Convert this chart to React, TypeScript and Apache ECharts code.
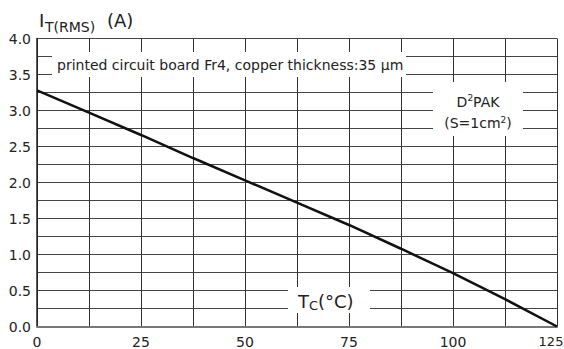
import React, { useEffect, useRef } from "react";
import * as echarts from "echarts";

const tempC = [0, 12.5, 25, 37.5, 50, 62.5, 75, 87.5, 100, 112.5, 125];
const currentA = [3.28, 2.97, 2.66, 2.34, 2.03, 1.72, 1.41, 1.08, 0.74, 0.38, 0];
const xTickLabels = [0, 25, 50, 75, 100, 125];
const yTickLabels = [0, 0.5, 1, 1.5, 2, 2.5, 3, 3.5, 4];

const FONT = "'DejaVu Sans', 'Liberation Sans', Arial, sans-serif";
const INK = "#222";

const txt = (x: number, y: number, text: string, size: number, align = "left") => ({
  type: "text",
  x,
  y,
  style: { text, font: `${size}px ${FONT}`, fill: INK, verticalAlign: "middle", align },
  z: 11,
});

export default function App() {
  const ref = useRef<HTMLDivElement>(null);
  useEffect(() => {
    if (!ref.current) return;
    const chart = echarts.init(ref.current, undefined, { renderer: "svg" });
    const supRich = {
      n: { fontSize: 14, fontFamily: FONT, fill: INK, lineHeight: 16 },
      s: { fontSize: 9, fontFamily: FONT, fill: INK, padding: [0, 0, 7, 0] },
    };
    chart.setOption({
      animation: false,
      grid: { left: 37, right: 7, top: 38.5, bottom: 22.5, containLabel: false, outerBoundsMode: "none" },
      xAxis: {
        type: "value",
        min: 0,
        max: 125,
        interval: 12.5,
        axisLine: { show: true, lineStyle: { color: "#777", width: 2 } },
        axisTick: { show: false },
        splitLine: { show: true, lineStyle: { color: "#333", width: 1 } },
        axisLabel: {
          color: INK,
          fontFamily: FONT,
          fontSize: 14,
          margin: 8,
          formatter: (v: number) => {
            if (!xTickLabels.includes(v)) return "";
            if (v === 125) return "{m|" + v + "}";
            return String(v);
          },
          rich: {
            m: { fontSize: 13, fontFamily: FONT, color: INK, padding: [0, 12, 0, 0] },
          },
        },
      },
      yAxis: {
        type: "value",
        min: 0,
        max: 4,
        interval: 0.25,
        axisLine: { show: true, lineStyle: { color: "#222", width: 1.5 } },
        axisTick: { show: false },
        splitLine: { show: true, lineStyle: { color: "#444", width: 1 } },
        axisLabel: {
          color: INK,
          fontFamily: FONT,
          fontSize: 14,
          margin: 6,
          formatter: (v: number) => (yTickLabels.includes(v) ? v.toFixed(1) : ""),
        },
      },
      graphic: [
        { type: "rect", shape: { x: 52, y: 52, width: 354, height: 25 }, style: { fill: "#fff" }, z: 10 },
        txt(57, 64.5, "printed circuit board Fr4, copper thickness:35 µm", 14),
        { type: "rect", shape: { x: 433, y: 82, width: 90, height: 54 }, style: { fill: "#fff" }, z: 10 },
        {
          type: "text",
          x: 478,
          y: 101.5,
          style: { text: "{n|D}{s|2}{n|PAK}", align: "center", verticalAlign: "middle", fill: INK, rich: supRich },
          z: 11,
        },
        {
          type: "text",
          x: 478,
          y: 123,
          style: { text: "{n|(S=1cm}{s|2}{n|)}", align: "center", verticalAlign: "middle", fill: INK, rich: supRich },
          z: 11,
        },
        { type: "rect", shape: { x: 288, y: 287, width: 82, height: 26 }, style: { fill: "#fff" }, z: 10 },
        txt(298, 301, "T", 18),
        txt(309, 305, "C", 13),
        txt(318, 301, "(°C)", 18),
        txt(39, 20, "I", 18),
        txt(45, 27, "T(RMS)", 14),
        txt(107, 20, "(A)", 18),
      ],
      series: [
        {
          type: "line",
          data: tempC.map((t, i) => [t, currentA[i]]),
          showSymbol: false,
          symbol: "none",
          lineStyle: { color: "#111", width: 2.5 },
          z: 5,
        },
      ],
    });
    return () => chart.dispose();
  }, []);
  return <div ref={ref} style={{ width: 564, height: 349, position: "absolute", left: 0, top: 0 }} />;
}
